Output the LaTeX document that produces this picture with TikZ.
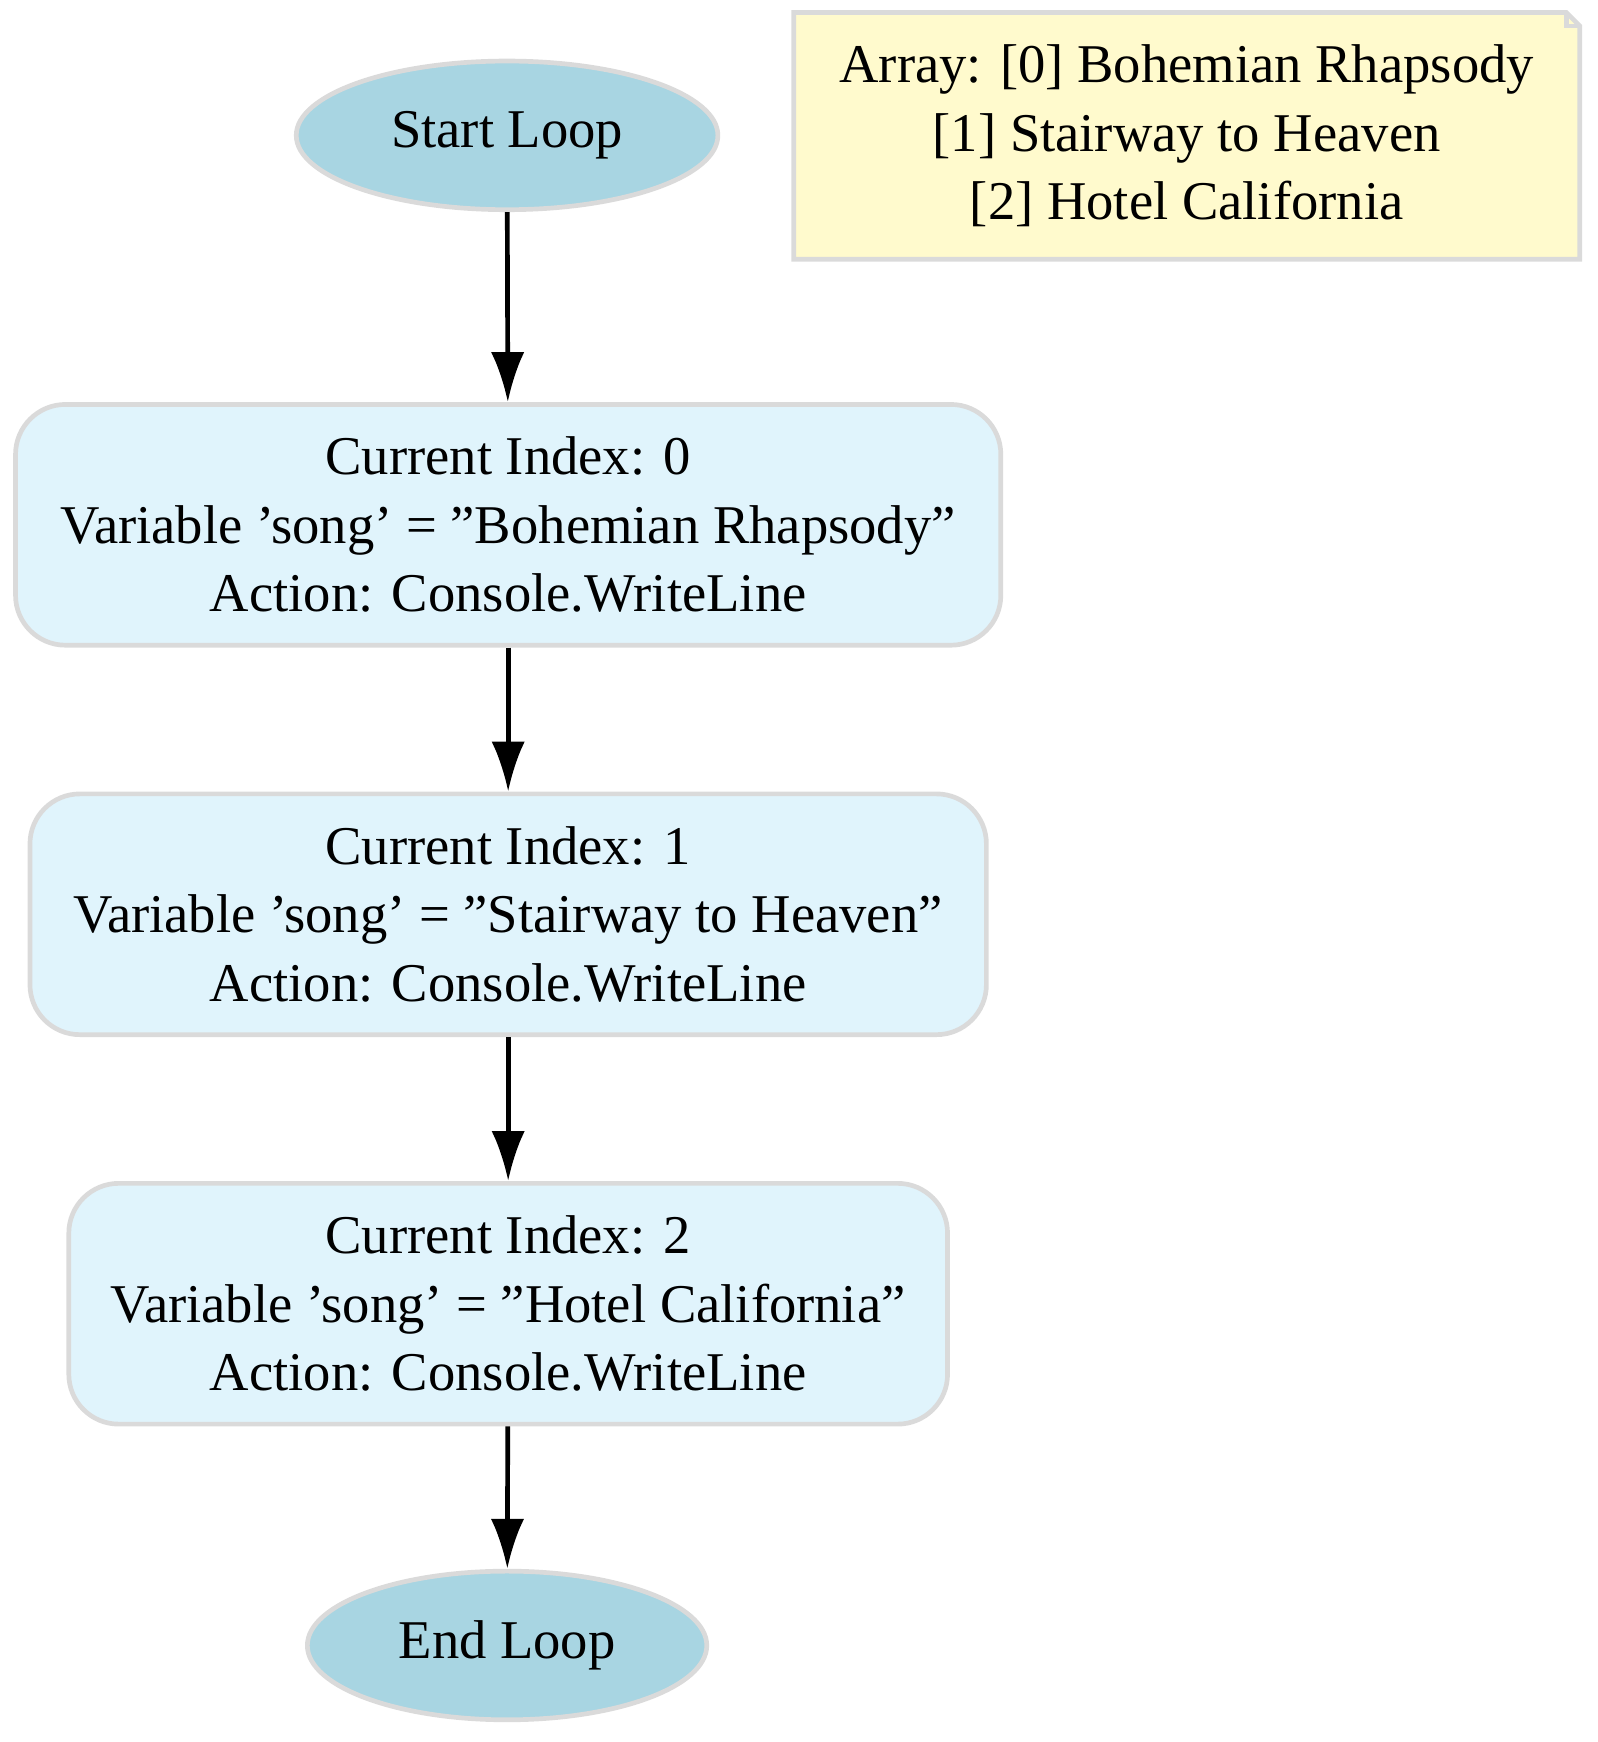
\documentclass[tikz,border=0pt]{standalone}
\usepackage{fontspec}
\setmainfont{Liberation Serif}
\usetikzlibrary{shapes.geometric, arrows.meta, positioning}
\definecolor{loopblue}{HTML}{A8D5E2}
\definecolor{stepblue}{HTML}{E0F4FC}
\definecolor{notefill}{HTML}{FFFACD}
\definecolor{edgegray}{HTML}{DADADA}
\tikzstyle{terminal} = [ellipse, draw=edgegray, line width=1.2pt, fill=loopblue, font=\fontsize{14}{17}\selectfont]
\tikzstyle{iteration} = [rectangle, rounded corners=0.45cm, minimum height=2.17cm, align=center, draw=edgegray, line width=1.2pt, fill=stepblue, font=\fontsize{14}{17.6}\selectfont]
\tikzstyle{arrow} = [line width=1.2pt, -{Latex[length=0.45cm,width=0.3cm]}]

\begin{document}
\begin{tikzpicture}
    \useasboundingbox (0,0) rectangle (14.4,-15.7);
    \node (start) [terminal, minimum width=3.8cm, minimum height=1.34cm] at (4.57,-1.22) {Start Loop};
    \node (idx0) [iteration, minimum width=8.88cm] at (4.58,-4.73) {Current Index: 0\\Variable 'song' = "Bohemian Rhapsody"\\Action: Console.WriteLine};
    \node (idx1) [iteration, minimum width=8.62cm] at (4.58,-8.24) {Current Index: 1\\Variable 'song' = "Stairway to Heaven"\\Action: Console.WriteLine};
    \node (idx2) [iteration, minimum width=7.92cm] at (4.58,-11.75) {Current Index: 2\\Variable 'song' = "Hotel California"\\Action: Console.WriteLine};
    \node (stop) [terminal, minimum width=3.6cm, minimum height=1.34cm] at (4.57,-14.83) {End Loop};

    % array note with folded corner
    \node (array) [minimum width=7.07cm, minimum height=2.21cm] at (10.695,-1.225) {};
    \draw [draw=edgegray, line width=1.2pt, fill=notefill] (array.north west) -- ([xshift=-0.12cm]array.north east) -- ([yshift=-0.12cm]array.north east) -- (array.south east) -- (array.south west) -- cycle;
    \draw [draw=edgegray, line width=1.2pt] ([xshift=-0.12cm]array.north east) |- ([yshift=-0.12cm]array.north east);
    \node (arraytext) [align=center, font=\fontsize{14}{17.6}\selectfont] at (array) {Array: [0] Bohemian Rhapsody\\{}[1] Stairway to Heaven\\{}[2] Hotel California};

    \draw [arrow] (start) -- (idx0);
    \draw [arrow] (idx0) -- (idx1);
    \draw [arrow] (idx1) -- (idx2);
    \draw [arrow] (idx2) -- (stop);
\end{tikzpicture}
\end{document}
